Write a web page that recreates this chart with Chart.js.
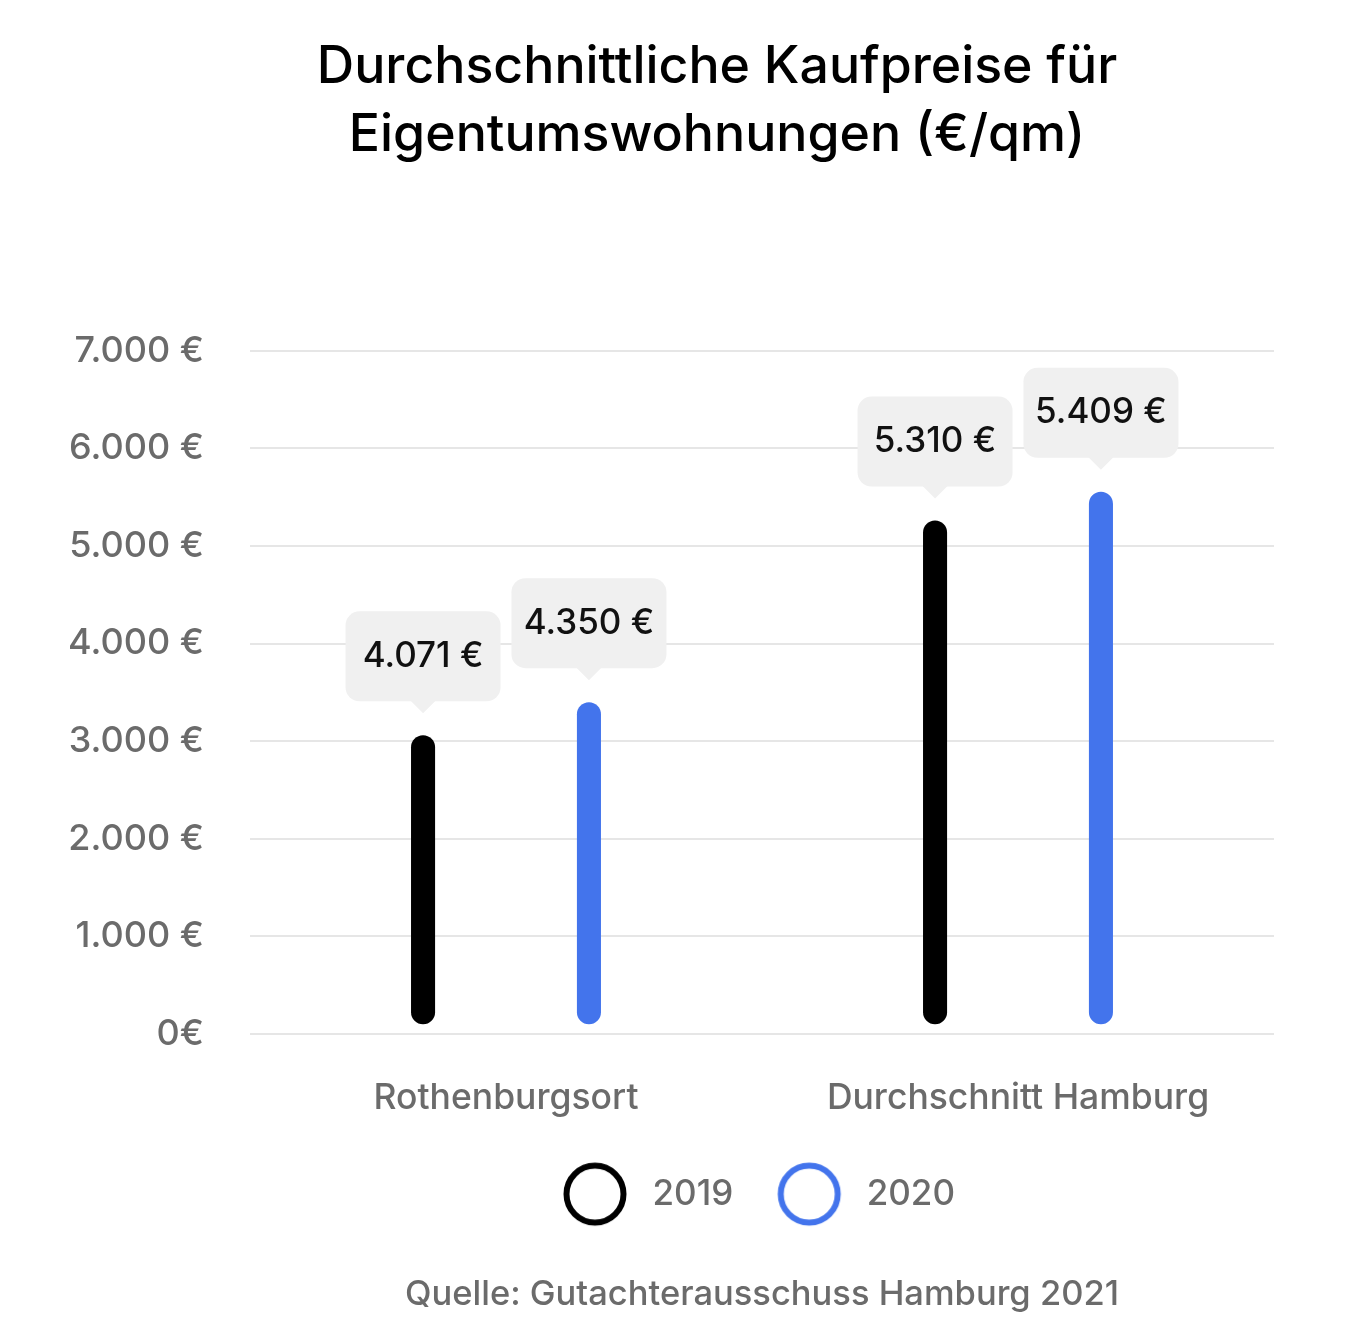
<!DOCTYPE html>
<html>
<head>
<meta charset="utf-8">
<script src="https://cdn.jsdelivr.net/npm/chart.js@4.4.1/dist/chart.umd.min.js"></script>
<style>
    html,body{margin:0;padding:0;background:#fff;}
    #wrap{width:1368px;height:1342px;}
</style>
</head>
<body>
<div id="wrap"><canvas id="myChart"></canvas></div>
<script>
// values
const categories=['Rothenburgsort','Durchschnitt Hamburg'];
const seriesNames=['2019','2020'];
const seriesColors=['#000000','#4374ec'];
const barBase=[100,100];
const bars2019=[3060,5260];
const bars2020=[3400,5555];
const callouts2019=['4.071 €','5.310 €'];
const callouts2020=['4.350 €','5.409 €'];
const yTickLabels=['0€','1.000 €','2.000 €','3.000 €','4.000 €','5.000 €','6.000 €','7.000 €'];
const titleLines=['Durchschnittliche Kaufpreise für','Eigentumswohnungen (€/qm)'];
const sourceText='Quelle: Gutachterausschuss Hamburg 2021';

const FONT="Inter, 'Noto Sans', sans-serif";
const GREY='#6b6b6b';

// ring used as legend marker (circle sits a bit left of the image centre)
const ringIcon=color=>{
    const c=document.createElement('canvas');
    c.width=96;c.height=68;
    const g=c.getContext('2d');
    g.strokeStyle=color;g.lineWidth=6;
    g.beginPath();g.arc(41,34,28.5,0,Math.PI*2);g.stroke();
    return c;
};

const calloutPlugin={
    id:'callouts',
    afterDatasetsDraw(chart){
        const ctx=chart.ctx;
        const texts=[callouts2019,callouts2020];
        chart.data.datasets.forEach((ds,di)=>{
            chart.getDatasetMeta(di).data.forEach((bar,i)=>{
                const w=155,h=90,r=14,gap=34;
                const cx=bar.x,bottom=bar.y-gap,top=bottom-h,left=cx-w/2;
                ctx.save();
                ctx.fillStyle='#f0f0f0';
                ctx.beginPath();
                ctx.roundRect(left,top,w,h,r);
                ctx.fill();
                ctx.beginPath();
                ctx.moveTo(cx-13,bottom-1);
                ctx.lineTo(cx+13,bottom-1);
                ctx.lineTo(cx,bottom+12);
                ctx.closePath();
                ctx.fill();
                ctx.fillStyle='#111';
                ctx.font="500 35px "+FONT;
                ctx.textAlign='center';
                ctx.textBaseline='middle';
                ctx.fillText(texts[di][i],cx,top+h/2);
                ctx.restore();
            });
        });
    }
};

// legend box clips its content, give the rings some room below
const legendRoom={
    id:'legendRoom',
    afterLayout(chart){
        chart.legend.bottom+=14;
        chart.legend.height+=14;
    }
};

const ctx=document.getElementById('myChart').getContext('2d');
const myChart=new Chart(ctx,{
    type:'bar',
    data:{
        labels:categories,
        datasets:[{
            label:seriesNames[0],
            data:categories.map((c,i)=>[barBase[i],bars2019[i]]),
            backgroundColor:seriesColors[0]
        },{
            label:seriesNames[1],
            data:categories.map((c,i)=>[barBase[i],bars2020[i]]),
            backgroundColor:seriesColors[1]
        }]
    },
    options:{
        responsive:true,
        maintainAspectRatio:false,
        animation:false,
        devicePixelRatio:1,
        categoryPercentage:0.648,
        barPercentage:0.145,
        borderRadius:12,
        borderSkipped:false,
        layout:{padding:{left:66,right:0,top:33,bottom:27}},
        scales:{
            x:{
                grid:{display:false,drawTicks:false},
                border:{display:false},
                ticks:{color:GREY,padding:43,font:{family:FONT,size:35.5,weight:500,lineHeight:1.2}},
                afterFit:s=>{s.height-=36;}
            },
            y:{
                min:0,max:7000,
                grid:{color:'#e6e6e6',lineWidth:2,drawTicks:false},
                border:{display:false},
                ticks:{
                    stepSize:1000,
                    padding:46,
                    color:GREY,
                    font:{family:FONT,size:36,weight:500},
                    callback:(v,i)=>yTickLabels[i]
                },
                afterFit:s=>{s.width=184;}
            },
            y2:{
                type:'linear',
                position:'right',
                grid:{display:false,drawTicks:false},
                border:{display:false},
                ticks:{display:false},
                afterFit:s=>{s.width=94;}
            }
        },
        plugins:{
            tooltip:{enabled:false},
            title:{
                display:true,
                text:titleLines,
                color:'#000',
                font:{family:FONT,size:51.8,weight:500,lineHeight:1.32},
                padding:{top:0,bottom:181}
            },
            subtitle:{
                display:true,
                position:'bottom',
                fullSize:false,
                text:sourceText,
                color:GREY,
                font:{family:FONT,size:34.5,weight:500,lineHeight:1.2},
                padding:{top:52,bottom:0}
            },
            legend:{
                position:'bottom',
                fullSize:false,
                labels:{
                    usePointStyle:true,
                    pointStyleWidth:66,
                    padding:50,
                    color:GREY,
                    font:{family:FONT,size:35,weight:500},
                    generateLabels:chart=>chart.data.datasets.map((ds,i)=>({
                        text:ds.label,
                        pointStyle:ringIcon(seriesColors[i]),
                        fillStyle:'transparent',
                        strokeStyle:'transparent',
                        lineWidth:0,
                        fontColor:GREY,
                        hidden:false,
                        datasetIndex:i
                    }))
                }
            }
        }
    },
    plugins:[calloutPlugin,legendRoom]
});
</script>
</body>
</html>
